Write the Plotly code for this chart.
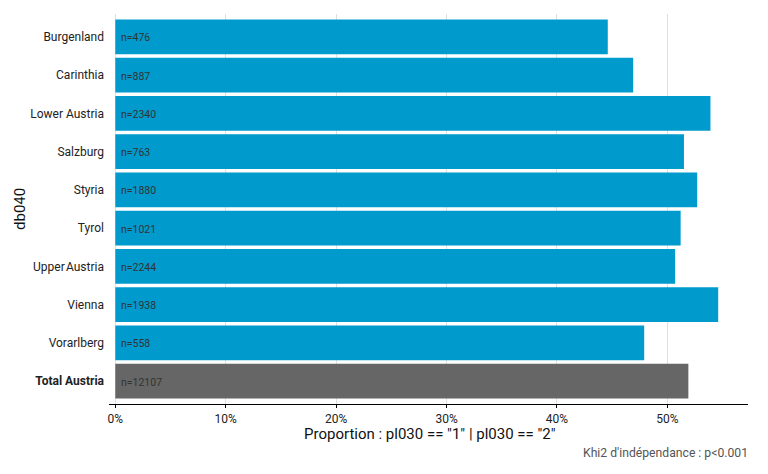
import plotly.graph_objects as go

categories = ["Burgenland", "Carinthia", "Lower Austria", "Salzburg", "Styria",
              "Tyrol", "UpperAustria", "Vienna", "Vorarlberg", "Total Austria"]
proportions = [44.6, 46.9, 53.9, 51.5, 52.7, 51.2, 50.7, 54.6, 47.9, 51.9]
counts = [476, 887, 2340, 763, 1880, 1021, 2244, 1938, 558, 12107]
tick_labels = ["Burgenland", "Carinthia", "Lower Austria", "Salzburg", "Styria",
               "Tyrol", "Upper\u200aAustria", "Vienna", "Vorarlberg", "<b>Total Austria</b>"]
x_ticks = [0, 10, 20, 30, 40, 50]

colors = ["#009ACD"] * (len(categories) - 1) + ["#666666"]

fig = go.Figure()
fig.add_trace(go.Bar(
    y=categories, x=proportions, orientation="h",
    marker=dict(color=colors, line=dict(width=0)),
    hoverinfo="skip",
))

for cat, n in zip(categories, counts):
    fig.add_annotation(x=0, y=cat, text=f"n={n}", showarrow=False,
                       xanchor="left", xshift=4, yshift=-1,
                       font=dict(family="Roboto", size=10.5, color="#333333"))

fig.update_layout(
    width=768, height=474,
    margin=dict(l=109, r=20, t=13.5, b=70),
    paper_bgcolor="white", plot_bgcolor="white",
    bargap=0.09, showlegend=False,
    font=dict(family="Roboto", color="#222222"),
    xaxis=dict(
        range=[-0.57, 57.3], tickvals=x_ticks,
        ticktext=[f"{v}%" for v in x_ticks],
        showgrid=True, gridcolor="#e0e0e0", gridwidth=1,
        zeroline=False, showline=True, linecolor="#000000", linewidth=1.3,
        ticks="outside", ticklen=3, tickcolor="#000000", tickwidth=1,
        tickfont=dict(family="Roboto", size=12, color="#222222"),
        automargin=False, fixedrange=True,
    ),
    yaxis=dict(
        categoryorder="array", categoryarray=categories,
        range=[9.6, -0.6],
        tickvals=categories, ticktext=tick_labels,
        showgrid=False, zeroline=False, showline=False,
        ticks="", ticklabelstandoff=4,
        tickfont=dict(family="Roboto", size=12, color="#222222"),
        automargin=False, fixedrange=True,
    ),
)

fig.add_annotation(x=0.5, y=0, xref="paper", yref="paper", xanchor="center", yanchor="middle",
                   yshift=-30, xshift=1, text='Proportion : pl030 == "1" | pl030 == "2"', showarrow=False,
                   font=dict(family="Roboto", size=15, color="#111111"))
fig.add_annotation(x=0, y=0.5, xref="paper", yref="paper", xanchor="center", yanchor="middle",
                   xshift=-89, text="db040", textangle=-90, showarrow=False,
                   font=dict(family="Roboto", size=15, color="#111111"))
fig.add_annotation(x=1, y=0, xref="paper", yref="paper", xanchor="right", yanchor="middle",
                   yshift=-49, xshift=2, text="Khi2 d'indépendance : p<0.001", showarrow=False,
                   font=dict(family="Roboto", size=12.2, color="#555555"))

fig.write_html("out.html", config={"displayModeBar": False},
               post_script="document.body.style.margin='0';document.body.style.padding='0';")
